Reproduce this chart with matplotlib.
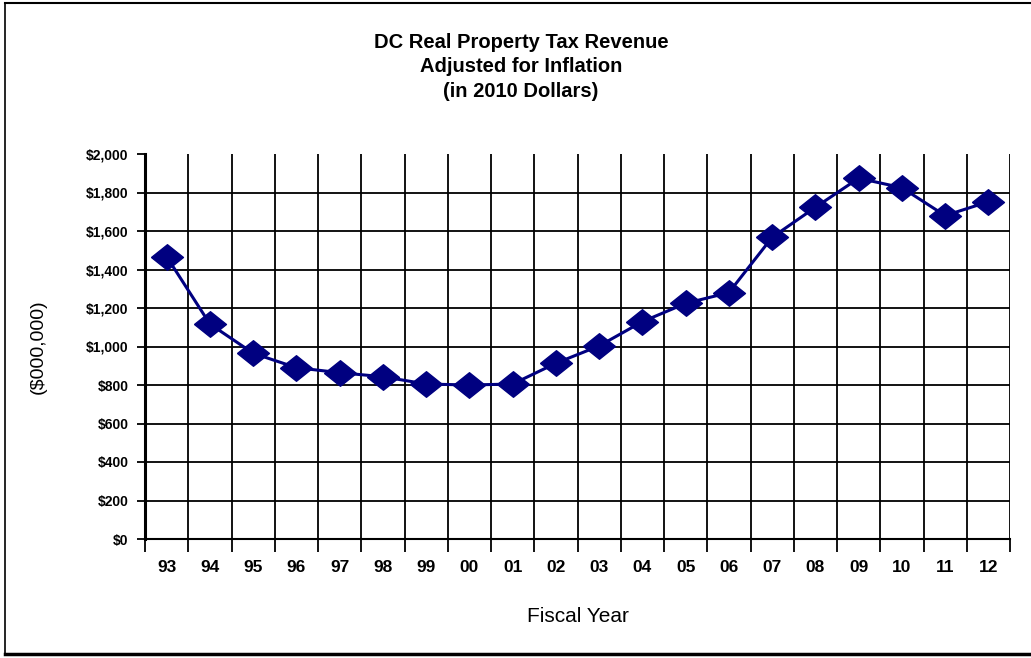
import numpy as np
import matplotlib
matplotlib.use("Agg")
import matplotlib.pyplot as plt
from matplotlib.lines import Line2D
from matplotlib.ticker import FuncFormatter

# Data ($000,000, 2010 dollars)
years = ["93", "94", "95", "96", "97", "98", "99", "00", "01", "02",
         "03", "04", "05", "06", "07", "08", "09", "10", "11", "12"]
revenue = [1467, 1117, 965, 890, 864, 843, 805, 800, 805, 913,
           1003, 1129, 1224, 1280, 1567, 1723, 1874, 1825, 1680, 1752]
y_ticks = [0, 200, 400, 600, 800, 1000, 1200, 1400, 1600, 1800, 2000]

plt.rcParams["font.family"] = ["Liberation Sans", "DejaVu Sans"]

W, H = 1031, 658
fig = plt.figure(figsize=(W / 100, H / 100), dpi=100)
ax = fig.add_axes([145 / W, 1 - 539 / H, (1010 - 145) / W, (539 - 154) / H])

# slightly flattened diamond, like the Excel marker
diamond = [(-1, 0), (0, 0.8), (1, 0), (0, -0.8), (-1, 0)]

x = np.arange(len(years))
ax.plot(x, revenue, color="#000080", lw=2.2, marker=diamond, ms=23,
        markerfacecolor="#000080", markeredgecolor="#000080", zorder=5)

ax.set_xlim(-0.5, len(years) - 0.5)
ax.set_ylim(0, 2000)

# category labels at centres, gridlines at category boundaries
ax.set_xticks(x)
ax.set_xticklabels(years, fontsize=12.5, fontweight="bold")
ax.tick_params(axis="x", which="major", length=0, pad=15)
ax.set_xticks(np.arange(len(years) + 1) - 0.5, minor=True)
ax.tick_params(axis="x", which="minor", length=9, width=1.3, color="black", direction="out")
ax.xaxis.grid(True, which="minor", color="black", lw=1.3)

ax.set_yticks(y_ticks)
ax.yaxis.set_major_formatter(FuncFormatter(lambda v, p: f"${v:,.0f}"))
for lab in ax.get_yticklabels():
    lab.set_fontsize(10)
    lab.set_fontweight("bold")
ax.tick_params(axis="y", length=6, width=1.3, color="black", pad=6)

# horizontal gridlines below the top edge only
for v in y_ticks[1:-1]:
    ax.axhline(v, color="black", lw=1.3, zorder=1)

ax.spines["top"].set_visible(False)
ax.spines["right"].set_visible(False)
ax.spines["left"].set_linewidth(2.2)
ax.spines["bottom"].set_linewidth(1.5)

ax.set_xlabel("Fiscal Year", fontsize=15, labelpad=23)
ax.set_ylabel("($000,000)", fontsize=14, labelpad=28)

fig.text(521 / W, 1 - 67 / H, "DC Real Property Tax Revenue\nAdjusted for Inflation\n(in 2010 Dollars)",
         ha="center", va="center", fontsize=14.5, fontweight="bold", linespacing=1.38)

# outer frame
frame_kw = dict(color="black", transform=fig.transFigure)
fig.add_artist(Line2D([5 / W, 5 / W], [1 - 3 / H, 1 - 655 / H], lw=1.2, **frame_kw))
fig.add_artist(Line2D([5 / W, 1], [1 - 3 / H, 1 - 3 / H], lw=1.5, **frame_kw))
fig.add_artist(Line2D([5 / W, 1], [1 - 654 / H, 1 - 654 / H], lw=2.5, **frame_kw))

fig.savefig("out.png", dpi=100)
